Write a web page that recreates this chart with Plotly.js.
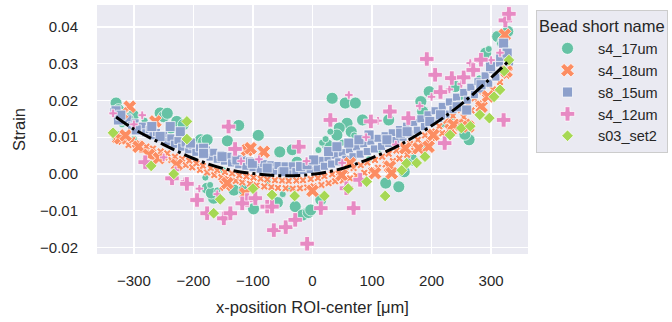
<!DOCTYPE html>
<html>
<head>
<meta charset="utf-8">
<script src="https://cdn.plot.ly/plotly-3.0.1.min.js"></script>
<style>html,body{margin:0;padding:0;background:#fff;}#chart{width:672px;height:322px;}</style>
</head>
<body>
<div id="chart"></div>
<script>
// ---- data ----
const seriesNames = ['s4_17um', 's4_18um', 's8_15um', 's4_12um', 's03_set2'];

// s4_17um
const s417BigX = [-330,-326,-328,-301,-310,-256,-250,-244,-238,-228,-217,-188,-183,-177,-143,-124,-91,-55,-34,-26,-177,-166,-170,-132,-115,-99,-59,-29,-17,-7,-3,14,33,55,72,84,58,45,41,25,65,128,123,145,154,168,182,185,196,240,263,256,291,311,328,320];
const s417BigY = [0.0193,0.0175,0.0102,0.0160,0.0150,0.0166,0.0156,0.0165,0.0125,0.0143,0.0134,0.0093,0.0088,0.0093,0.0090,0.0132,0.0105,0.0060,0.0066,0.0032,-0.0039,-0.0066,-0.0052,-0.0044,-0.0044,-0.0095,-0.0078,-0.0089,-0.0112,-0.0105,-0.0098,-0.0070,0.0206,0.0193,0.0193,0.0147,0.0138,0.0125,0.0106,0.0079,0.0115,0.0147,-0.0025,-0.0035,0.0006,0.0038,0.0197,0.0170,0.0224,0.0238,0.0093,0.0108,0.0329,0.0374,0.0388,0.0360];
const s417SmallX = [-320,-300,-282,-265,-180,-172,-160,-150,-140,-75,-50,-40,0,10,16,22,30,50,70,95,110,170,190,220,235,250,265,280,296,305,315,325];
const s417SmallY = [0.0135,0.0095,0.0145,0.0105,-0.0010,-0.0030,-0.0045,0.0010,-0.0020,-0.0020,-0.0055,-0.0040,0.0035,0.0065,0.0085,0.0095,0.0115,0.0085,0.0105,0.0040,0.0065,0.0045,0.0075,0.0135,0.0155,0.0210,0.0205,0.0260,0.0340,0.0300,0.0355,0.0345];

// s4_18um
const s418BigX = [-307,-320,-264,-323,-314,-292,-275,-258,-228,-110,-104,-82,-146,-143,-113,0,49,63,105,130,133,178,195,203,156,232,237,256,262,284,295,326,323];
const s418BigY = [0.0183,0.0165,0.0143,0.0097,0.0105,0.0074,0.0052,0.0043,0.0025,0.0065,0.0070,0.0060,-0.0030,-0.0025,-0.0053,-0.0046,-0.0003,0.0029,0.0002,0.0020,0.0002,0.0070,0.0074,0.0106,0.0070,0.0120,0.0134,0.0134,0.0129,0.0183,0.0211,0.0279,0.0379];
const s418SmallX = [-336,-331,-326,-321,-316,-309,-303,-298,-291,-286,-279,-273,-268,-262,-255,-249,-244,-237,-231,-226,-219,-213,-207,-202,-195,-189,-184,-177,-171,-165,-160,-153,-147,-142,-135,-129,-123,-118,-111,-105,-99,-94,-87,-81,-76,-69,-63,-58,-51,-45,-40,-33,-27,-21,-16,-9,-3,2,9,15,20,27,33,38,45,51,56,63,69,74,81,87,92,99,105,110,117,123,128,135,141,146,153,159,164,171,177,182,189,195,200,207,213,218,225,231,236,243,249,254,261,267,272,279,285,290,297,303,308,315,321,326,331];
const s418SmallY = [0.0112,0.0094,0.0105,0.0088,0.0098,0.0079,0.0092,0.0071,0.0083,0.0066,0.0074,0.0058,0.0069,0.0051,0.0061,0.0045,0.0056,0.0038,0.0047,0.0031,0.0041,0.0024,0.0036,0.0018,0.0029,0.0011,0.0022,0.0004,0.0016,-0.0003,0.0010,-0.0009,0.0005,-0.0014,0.0001,-0.0019,-0.0004,-0.0023,-0.0007,-0.0027,-0.0010,-0.0031,-0.0013,-0.0034,-0.0015,-0.0036,-0.0017,-0.0038,-0.0018,-0.0039,-0.0019,-0.0040,-0.0018,-0.0039,-0.0017,-0.0037,-0.0014,-0.0034,-0.0011,-0.0030,-0.0006,-0.0025,-0.0001,-0.0020,0.0004,-0.0018,0.0009,-0.0012,0.0016,-0.0005,0.0024,0.0003,0.0031,0.0009,0.0038,0.0017,0.0047,0.0026,0.0055,0.0035,0.0064,0.0042,0.0073,0.0052,0.0082,0.0063,0.0093,0.0073,0.0105,0.0085,0.0115,0.0098,0.0130,0.0111,0.0145,0.0127,0.0158,0.0141,0.0174,0.0155,0.0190,0.0173,0.0206,0.0191,0.0225,0.0209,0.0245,0.0230,0.0263,0.0250,0.0285,0.0268,0.0290];

// s8_15um
const s815BigX = [-330,-326,-322,-296,-270,-256,-239,-222,-205,-183,-183,-152,-127,-101,-76,-48,-20,-9,2,27,41,61,78,95,125,148,159,197,215,243,259,283,299,316,321,327];
const s815BigY = [0.0172,0.0147,0.0160,0.0120,0.0129,0.0102,0.0129,0.0115,0.0084,0.0070,0.0056,0.0047,0.0038,0.0029,0.0016,0.0006,0.0020,0.0025,0.0038,0.0061,0.0074,0.0084,0.0093,0.0106,0.0093,0.0111,0.0115,0.0143,0.0161,0.0183,0.0174,0.0243,0.0292,0.0320,0.0356,0.0329];
const s815SmallX = [-334,-328,-322,-316,-310,-304,-298,-292,-286,-280,-274,-268,-262,-256,-250,-244,-238,-232,-226,-220,-214,-208,-202,-196,-190,-184,-178,-172,-166,-160,-154,-148,-142,-136,-130,-124,-118,-112,-106,-100,-94,-88,-82,-76,-70,-64,-58,-52,-46,-40,-34,-28,-22,-16,-10,-4,2,8,14,20,26,32,38,44,50,56,62,68,74,80,86,92,98,104,110,116,122,128,134,140,146,152,158,164,170,176,182,188,194,200,206,212,218,224,230,236,242,248,254,260,266,272,278,284,290,296,302,308,314,320,326,331];
const s815SmallY = [0.0170,0.0158,0.0163,0.0144,0.0150,0.0131,0.0139,0.0121,0.0130,0.0112,0.0121,0.0104,0.0113,0.0096,0.0106,0.0088,0.0098,0.0081,0.0091,0.0073,0.0084,0.0066,0.0077,0.0059,0.0071,0.0052,0.0065,0.0046,0.0059,0.0040,0.0053,0.0035,0.0048,0.0030,0.0043,0.0025,0.0039,0.0021,0.0035,0.0017,0.0031,0.0013,0.0028,0.0010,0.0025,0.0008,0.0023,0.0006,0.0022,0.0006,0.0022,0.0007,0.0024,0.0009,0.0027,0.0012,0.0031,0.0016,0.0037,0.0021,0.0044,0.0027,0.0051,0.0033,0.0058,0.0040,0.0066,0.0047,0.0074,0.0054,0.0082,0.0061,0.0089,0.0068,0.0097,0.0075,0.0104,0.0083,0.0112,0.0091,0.0121,0.0100,0.0130,0.0109,0.0140,0.0119,0.0150,0.0129,0.0161,0.0140,0.0172,0.0151,0.0184,0.0163,0.0196,0.0175,0.0209,0.0188,0.0222,0.0201,0.0236,0.0216,0.0251,0.0231,0.0267,0.0247,0.0284,0.0264,0.0302,0.0283,0.0320,0.0305];

// s4_12um
const s412BigX = [-281,-236,-211,-194,-177,-149,-138,-141,-130,-110,-96,-118,-76,-68,-65,-45,-29,-9,-23,14,30,57,80,69,98,130,161,192,206,215,222,234,254,270,283,321,324,330];
const s412BigY = [0.0032,-0.0012,-0.0027,-0.0071,-0.0107,-0.0121,-0.0107,0.0129,0.0068,-0.0071,-0.0066,-0.0080,-0.0089,-0.0089,-0.0153,-0.0145,-0.0125,-0.0190,0.0074,-0.0093,0.0147,-0.0039,-0.0016,-0.0093,0.0143,0.0170,0.0152,0.0313,0.0270,0.0223,0.0084,0.0261,0.0263,0.0283,0.0311,0.0147,0.0418,0.0436];
const s412SmallX = [-335,-286,-300,-250,-230,-215,-190,-160,-120,-90,-20,-10,50,61,90,110,140,180,200,230,250,265,281,300,315];
const s412SmallY = [0.0165,0.0160,0.0135,0.0045,0.0010,-0.0020,-0.0040,-0.0055,0.0035,0.0040,0.0070,0.0035,0.0030,0.0215,0.0100,0.0145,0.0080,0.0185,0.0210,0.0230,0.0245,0.0302,0.0306,0.0310,0.0330];

// s03_set2
const s03X = [-335,-271,-233,-211,-211,-155,-166,-100,-68,-30,20,60,91,122,150,158,175,189,231,250,265,281,297,305,315,322,330];
const s03Y = [0.0112,0.0022,0.0000,0.0143,0.0095,-0.0069,-0.0107,-0.0040,-0.0057,-0.0060,-0.0060,-0.0040,-0.0021,-0.0060,0.0010,0.0029,0.0030,0.0047,0.0106,0.0125,0.0130,0.0161,0.0152,0.0210,0.0229,0.0280,0.0310];

// fitted curve
const fitX = [-330,-300,-250,-200,-150,-100,-50,0,50,100,150,200,250,300,328];
const fitY = [0.0155,0.0122,0.0080,0.0042,0.0015,0.0001,-0.0005,-0.0001,0.0015,0.0044,0.0082,0.0131,0.0190,0.0262,0.0305];

const xTicks = [-300,-200,-100,0,100,200,300];
const yTicks = [-0.02,-0.01,0.00,0.01,0.02,0.03,0.04];

// ---- styling ----
const colors = ['#66c2a5','#fc8d62','#8da0cb','#e78ac3','#a6d854'];
const symbols = ['circle','x','square','cross','diamond'];
const edge = {color:'#ffffff', width:0.7};

function pts(x, y, i, size, showlegend) {
  return {
    type:'scatter', mode:'markers', x:x, y:y,
    name: seriesNames[i], legendgroup: seriesNames[i], legendrank: i+1,
    showlegend: showlegend,
    marker:{symbol:symbols[i], color:colors[i], size:size, line:edge},
    hoverinfo:'skip'
  };
}

const traces = [
  pts(s417BigX, s417BigY, 0, 12, true),
  pts(s417SmallX, s417SmallY, 0, 7, false),
  pts(s418SmallX, s418SmallY, 1, 7, false),
  pts(s815SmallX, s815SmallY, 2, 8, false),
  pts(s418BigX, s418BigY, 1, 12, true),
  pts(s815BigX, s815BigY, 2, 10, true),
  pts(s412SmallX, s412SmallY, 3, 7, false),
  pts(s412BigX, s412BigY, 3, 12, true),
  pts(s03X, s03Y, 4, 9, true),
  {type:'scatter', mode:'lines', x:fitX, y:fitY, showlegend:false, hoverinfo:'skip',
   line:{color:'#000000', width:3, dash:'15px,4px,3px,4px', shape:'spline'}}
];

const fontFam = 'Liberation Sans, Arial, sans-serif';
const layout = {
  width:672, height:322,
  margin:{l:97, r:144, t:5, b:68, pad:0, autoexpand:false},
  paper_bgcolor:'#ffffff', plot_bgcolor:'#eaeaf2',
  font:{family:fontFam, size:15, color:'#262626'},
  showlegend:true,
  xaxis:{range:[-362,362], tickvals:xTicks, ticks:'', showline:false, zeroline:false,
         gridcolor:'#ffffff', gridwidth:1.2, tickfont:{size:15, color:'#262626'},
         ticklabelstandoff:16, automargin:false,
         title:{text:'x-position ROI-center [μm]', font:{size:16.5, color:'#262626'}, standoff:13}},
  yaxis:{range:[-0.0218,0.046], tickvals:yTicks, tickformat:'.2f', ticks:'', showline:false, zeroline:false,
         gridcolor:'#ffffff', gridwidth:1.2, tickfont:{size:15, color:'#262626'},
         ticklabelstandoff:18, automargin:false,
         title:{text:'Strain', font:{size:16.5, color:'#262626'}, standoff:10}},
  legend:{x:1.0186, y:0.98, xanchor:'left', yanchor:'top',
          bgcolor:'#eaeaf2', bordercolor:'#cccccc', borderwidth:1,
          font:{size:14.5, color:'#262626'}, itemwidth:51, tracegroupgap:0,
          title:{text:'Bead short name', font:{size:16.5, color:'#262626'}}}
};

Plotly.newPlot('chart', traces, layout, {displayModeBar:false, staticPlot:true});
</script>
</body>
</html>
